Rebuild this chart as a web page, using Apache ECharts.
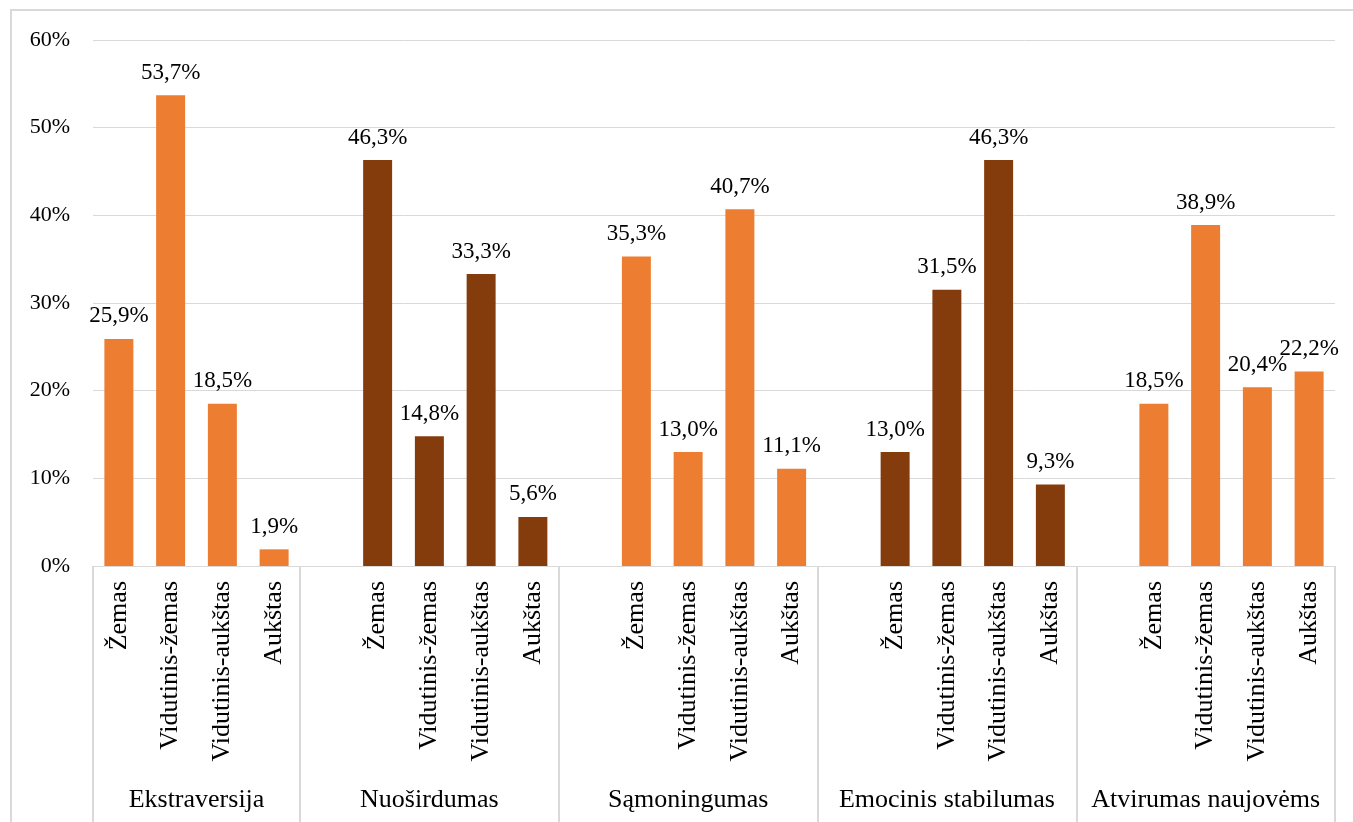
<!DOCTYPE html>
<html>
<head>
<meta charset="utf-8">
<script src="https://cdn.jsdelivr.net/npm/echarts@6/dist/echarts.min.js"></script>
<style>
html,body{margin:0;padding:0;background:#fff;overflow:hidden;}
#frame{position:absolute;left:10px;top:9px;width:2000px;height:2000px;border:2px solid #d9d9d9;box-sizing:border-box;}
#chart{position:absolute;left:0;top:0;width:1353px;height:822px;}
</style>
</head>
<body>
<div id="frame"></div>
<div id="chart"></div>
<script>
// ---- data ----
const groups = ['Ekstraversija', 'Nuoširdumas', 'Sąmoningumas', 'Emocinis stabilumas', 'Atvirumas naujovėms'];
const levels = ['Žemas', 'Vidutinis-žemas', 'Vidutinis-aukštas', 'Aukštas'];
const ekstraversija = [25.9, 53.7, 18.5, 1.9];
const nuosirdumas = [46.3, 14.8, 33.3, 5.6];
const samoningumas = [35.3, 13.0, 40.7, 11.1];
const emocinisStabilumas = [13.0, 31.5, 46.3, 9.3];
const atvirumasNaujovems = [18.5, 38.9, 20.4, 22.2];
const groupValues = [ekstraversija, nuosirdumas, samoningumas, emocinisStabilumas, atvirumasNaujovems];
const groupColors = ['#ED7D31', '#843C0C', '#ED7D31', '#843C0C', '#ED7D31'];
const yMin = 0, yMax = 60, yStep = 10;

// ---- build category axis (blank slot before each group after the first) ----
const categories = [];
const values = [];
const slotGroup = [];
const boundaries = [0];
groups.forEach((g, gi) => {
  if (gi > 0) { categories.push(''); values.push('-'); slotGroup.push(gi); }
  levels.forEach((lv, li) => {
    categories.push(lv);
    values.push(groupValues[gi][li]);
    slotGroup.push(gi);
  });
  boundaries.push(categories.length);
});
const centers = groups.map((g, gi) => (boundaries[gi] + boundaries[gi + 1]) / 2);
const nSlots = categories.length;

const FONT = '"Liberation Serif", "Times New Roman", serif';

const chart = echarts.init(document.getElementById('chart'), null, {renderer: 'canvas'});
chart.setOption({
  animation: false,
  backgroundColor: 'transparent',
  grid: {left: 93, right: 18, top: 40, bottom: 256, containLabel: false, outerBoundsMode: 'none'},
  xAxis: [
    {
      type: 'category',
      data: categories,
      position: 'bottom',
      axisLine: {show: true, lineStyle: {color: '#d9d9d9', width: 1}},
      axisTick: {show: false},
      axisLabel: {
        interval: 0, rotate: 90, margin: 15,
        fontFamily: FONT, fontSize: 26, color: '#000'
      },
      splitLine: {show: false}
    },
    {
      type: 'value',
      min: 0, max: nSlots,
      position: 'bottom',
      axisLine: {show: false},
      axisTick: {
        show: true, customValues: boundaries, length: 262, inside: false,
        lineStyle: {color: '#d9d9d9', width: 2}
      },
      axisLabel: {
        show: true, customValues: centers, margin: 221,
        fontFamily: FONT, fontSize: 26, color: '#000',
        formatter: function (v) {
          const i = centers.indexOf(v);
          return i >= 0 ? groups[i] : '';
        }
      },
      splitLine: {show: false}
    }
  ],
  yAxis: {
    type: 'value',
    min: yMin, max: yMax, interval: yStep,
    axisLine: {show: false},
    axisTick: {show: false},
    axisLabel: {
      formatter: '{value}%', margin: 23,
      fontFamily: FONT, fontSize: 22, color: '#000'
    },
    splitLine: {show: true, lineStyle: {color: '#d9d9d9', width: 1}}
  },
  series: [{
    type: 'bar',
    xAxisIndex: 0, yAxisIndex: 0,
    data: values,
    barWidth: '56%',
    itemStyle: {
      color: function (p) { return groupColors[slotGroup[p.dataIndex]]; }
    },
    label: {
      show: true, position: 'top', distance: 11,
      fontFamily: FONT, fontSize: 23, color: '#000',
      formatter: function (p) { return p.value.toFixed(1).replace('.', ',') + '%'; }
    }
  }]
});
</script>
</body>
</html>
